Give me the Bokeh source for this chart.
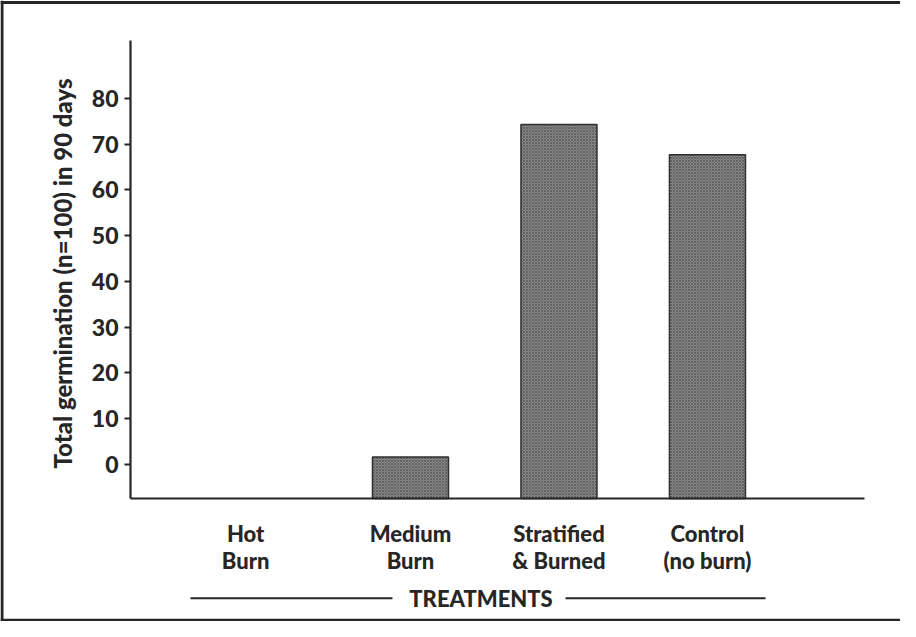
import math
from bokeh.plotting import figure
from bokeh.models import Range1d, FixedTicker, Span, Label, ColumnDataSource
from bokeh.embed import file_html
from bokeh.resources import INLINE

# ---- data ----
treatments = ["Hot\nBurn", "Medium\nBurn", "Stratified\n& Burned", "Control\n(no burn)"]
germination = [0, 1.6, 74.3, 67.7]
y_ticks = [0, 10, 20, 30, 40, 50, 60, 70, 80]
y_title = "Total germination (n=100) in 90 days"
x_title = "TREATMENTS"

# ---- layout ----
W, H = 900, 621
slots = [0.89, 2, 3, 4]
X0, X1 = -0.761, 5.300
Y0, Y1 = -34.41, 101.44
baseline = -7.5
y_top = 92.7
x_left, x_right = 0.1145, 5.057
FONT = "Lato Heavy, Lato"
INK = "#262626"


def xd(px):
    return X0 + (px - 8) / W * (X1 - X0)


def yd(py):
    return Y1 - (py - 8) / H * (Y1 - Y0)


p = figure(width=W, height=H, x_range=Range1d(X0, X1), y_range=Range1d(Y0, Y1),
           output_backend="svg", toolbar_location=None, min_border=0,
           outline_line_color=None)
p.grid.visible = False
p.background_fill_color = "white"
p.border_fill_color = "white"

bx = [s for s, g in zip(slots, germination) if g > 0]
bt = [g for g in germination if g > 0]
src = ColumnDataSource(dict(x=bx, top=bt))
p.vbar(x="x", top="top", bottom=baseline, width=0.512, source=src,
       fill_color="#8a8a8a", line_color="#303030", line_width=1.5,
       hatch_pattern="x", hatch_scale=3, hatch_color="#585858", hatch_weight=0.8)

xa = p.xaxis[0]
xa.fixed_location = baseline
xa.bounds = (x_left, x_right)
xa.ticker = FixedTicker(ticks=slots)
xa.major_label_overrides = {s: t for s, t in zip(slots, treatments)}
xa.major_tick_line_color = None
xa.minor_tick_line_color = None
xa.axis_line_width = 2.2
xa.axis_line_color = INK
xa.major_label_standoff = 16
xa.major_label_text_font = FONT
xa.major_label_text_font_style = "bold"
xa.major_label_text_font_size = "22px"
xa.major_label_text_color = INK
xa.major_label_text_line_height = 0.97

ya = p.yaxis[0]
ya.fixed_location = x_left
ya.bounds = (baseline, y_top)
ya.ticker = FixedTicker(ticks=y_ticks)
ya.major_tick_in = 0
ya.major_tick_out = 6
ya.major_tick_line_width = 2
ya.major_tick_line_color = INK
ya.minor_tick_line_color = None
ya.axis_line_width = 2.2
ya.axis_line_color = INK
ya.major_label_standoff = 6
ya.major_label_text_font = FONT
ya.major_label_text_font_style = "bold"
ya.major_label_text_font_size = "23px"
ya.major_label_text_color = INK

p.add_layout(Label(x=xd(70), y=yd(281), text=y_title, angle=math.pi / 2,
                   text_align="center", text_baseline="middle",
                   text_font=FONT, text_font_style="bold",
                   text_font_size="24px", text_color=INK))
p.add_layout(Label(x=xd(488.5), y=yd(605.5), text=x_title,
                   text_align="center", text_baseline="middle",
                   text_font=FONT, text_font_style="bold",
                   text_font_size="22px", text_color=INK))
p.segment(x0=[xd(198), xd(573)], x1=[xd(400), xd(773)],
          y0=[yd(605.7)] * 2, y1=[yd(605.7)] * 2, line_width=2, line_color=INK)

p.add_layout(Span(location=yd(10), dimension="width", line_width=3, line_color=INK))
p.add_layout(Span(location=xd(9.5), dimension="height", line_width=3, line_color=INK))
p.add_layout(Span(location=yd(627.5), dimension="width", line_width=2.5, line_color=INK))

open("out.html", "w").write(file_html(p, INLINE))
